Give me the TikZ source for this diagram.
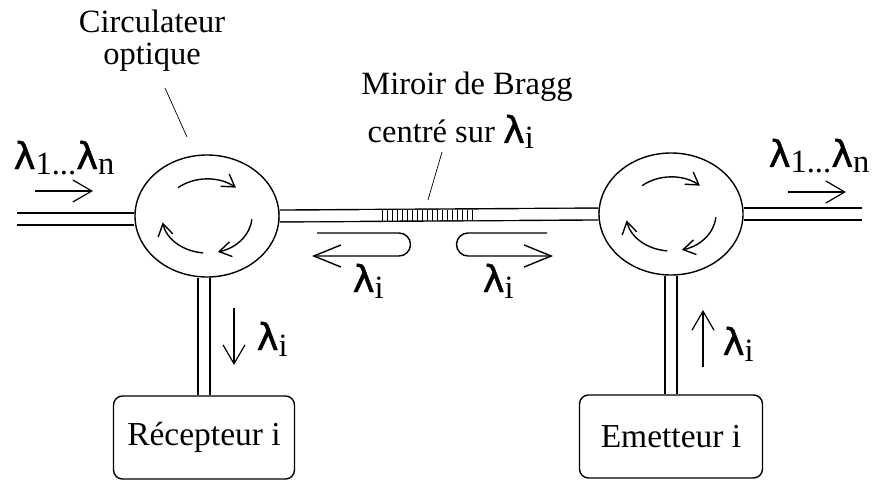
\documentclass[tikz,border=0pt]{standalone}
\usepackage{fontspec}
\setmainfont{Liberation Serif}
\newfontface\lamfont[FakeBold=1.2]{DejaVu Sans}
\usepackage{tikz}
\usetikzlibrary{positioning,shapes.geometric,arrows.meta,backgrounds}

\newcommand{\lam}[1]{{\fontsize{37}{37}\lamfont λ}\raisebox{-6pt}{#1}}

\begin{document}
\begin{tikzpicture}[x=1pt, y=1pt, line width=1.4pt,
    txt/.style = {inner sep=0, font=\fontsize{32.5}{32}\selectfont},
    circ/.style = {draw, ellipse, minimum width=144pt, minimum height=122pt, inner sep=0},
    box/.style = {draw, rounded corners=9pt, inner sep=0, font=\fontsize{33.5}{33}\selectfont},
    fiber/.style = {double, double distance=10.5pt, line width=1.4pt},
    big/.style = {-{Straight Barb[length=19pt, width=22pt]}, line width=1.2pt},
    rot/.style = {-{Straight Barb[length=12pt, width=15pt]}},
    back/.style = {-{Straight Barb[length=27pt, width=22pt]}},
    lead/.style = {line width=0.7pt}]
    \useasboundingbox (0,0) rectangle (877,480);

    % circulateurs et boitiers
    \node[circ] (c1) at (207,264) {};
    \node[circ] (c2) at (671,266) {};
    \node[box, minimum width=181pt, minimum height=83pt] (rec) at (204,42.5) {R\'ecepteur i};
    \node[box, minimum width=183pt, minimum height=83pt] (emt) at (671,43.5) {Emetteur i};
    \coordinate (in) at (17,261);
    \coordinate (out) at (862,266);

    % fibres
    \begin{scope}[on background layer]
        \draw[fiber] (in) -- (in -| c1.west);
        \draw[fiber] (c1.east) -- (c2.west);
        \draw[fiber] (c2.east) -- (out);
        \draw[fiber] (rec.north) -- (rec.north |- c1.south);
        \draw[fiber] (emt.north) -- (emt.north |- c2.south);
    \end{scope}

    % miroir de Bragg
    \foreach \i in {0,...,18}
        \draw[lead] (382+5*\i,259.5) -- ++(0,11);

    % sens de rotation
    \foreach \c in {c1,c2} {
        \draw[rot] ([shift={(130:45pt and 37pt)}]\c.center) arc[start angle=130, end angle=50, x radius=45pt, y radius=37pt];
        \draw[rot] ([shift={(265:45pt and 37pt)}]\c.center) arc[start angle=265, end angle=190, x radius=45pt, y radius=37pt];
        \draw[rot] ([shift={(355:45pt and 37pt)}]\c.center) arc[start angle=355, end angle=284, x radius=45pt, y radius=37pt];
    }

    % reflexions
    \draw[back] (317,247) -- (399,247) arc[start angle=90, end angle=-90, radius=11.5] -- (312,224);
    \draw[back] (547,247) -- (468,247) arc[start angle=90, end angle=270, radius=11.5] -- (553,224);

    % fleches
    \draw[big] (35,289) -- (93,289);
    \draw[big] (788,288) -- (846,288);
    \draw[big] (234,172) -- (234,115);
    \draw[big] (703,113) -- (703,170);

    % textes
    \node[txt, align=center, anchor=north] (circ) at (152,471) {Circulateur\\optique};
    \node[txt, anchor=base] (mir) at (467,385) {Miroir de Bragg};
    \node[txt, anchor=base west] (cen) at (367,337) {centr\'e sur \lam{i}};
    \node[txt, anchor=base west] (l1) at (13,311) {\lam{1...}\lam{n}};
    \node[txt, anchor=base west] (l2) at (768,313) {\lam{1...}\lam{n}};
    \node[txt, anchor=base west] (l3) at (256,130) {\lam{i}};
    \node[txt, anchor=base west] (l4) at (722,125) {\lam{i}};
    \node[txt, anchor=base west] (l5) at (352,188) {\lam{i}};
    \node[txt, anchor=base west] (l6) at (482,188) {\lam{i}};
    \draw[lead] (165,392) -- (187,343);
    \draw[lead] (442,328) -- (428,280);
\end{tikzpicture}
\end{document}
